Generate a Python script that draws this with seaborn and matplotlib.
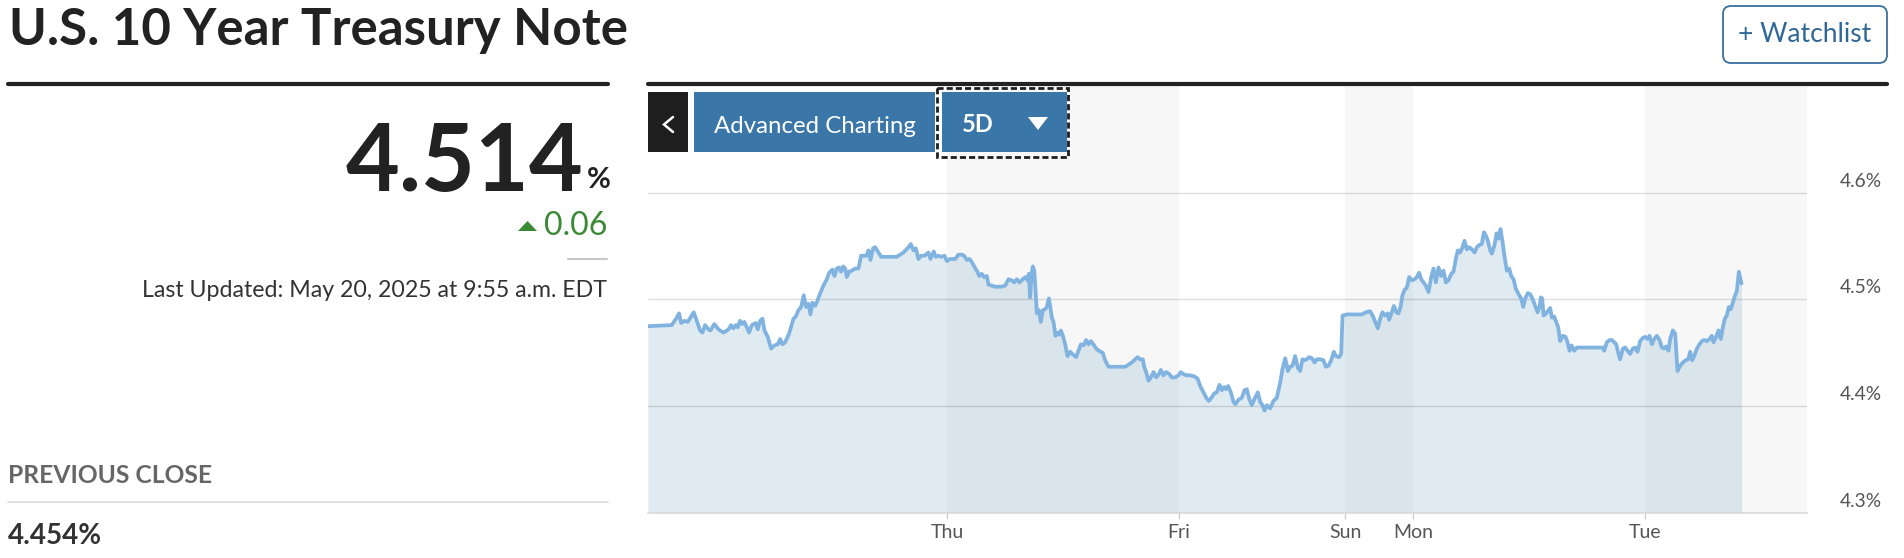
import matplotlib
matplotlib.use("Agg")
import matplotlib.pyplot as plt
import matplotlib.transforms as mtransforms
from matplotlib.patches import Rectangle, FancyBboxPatch, Polygon
from matplotlib.lines import Line2D
import seaborn as sns

# time axis = trading hours counted from Thu 00:00 (weekend gap squeezed out, like the site)
hours = [
    -31.02, -28.54, -28.02, -27.78, -27.57, -27.22, -26.88, -26.53, -26.26, -25.95,
    -25.60, -25.36, -25.08, -24.74, -24.53, -24.12, -23.70, -23.18, -22.66, -22.39,
    -22.15, -21.90, -21.70, -21.46, -21.21, -21.01, -20.76, -20.52, -20.25, -19.83,
    -19.63, -19.38, -19.14, -18.93, -18.59, -18.24, -17.90, -17.55, -17.31, -17.07,
    -16.79, -16.38, -15.93, -15.69, -15.41, -15.13, -14.86, -14.62, -14.37, -14.17,
    -13.96, -13.68, -13.48, -13.20, -12.82, -12.47, -12.23, -11.89, -11.68, -11.44,
    -11.20, -10.99, -10.78, -10.57, -10.40, -10.16, -9.88, -9.54, -9.19, -8.92,
    -8.64, -8.36, -8.16, -7.95, -7.67, -7.47, -7.19, -6.84, -6.08, -5.22,
    -4.53, -4.01, -3.77, -3.49, -3.25, -2.98, -2.70, -2.35, -1.94, -1.73,
    -1.39, -1.18, -0.90, -0.63, -0.28,
    # Thu
    -0.03, 0.31, 0.83, 1.17, 1.52, 1.76, 2.04, 2.31, 2.56, 2.80,
    3.07, 3.35, 3.59, 3.83, 4.11, 4.28, 4.63, 4.97, 5.32, 5.66,
    6.01, 6.36, 6.70, 6.94, 7.22, 7.50, 7.84, 8.12, 8.33, 8.46,
    8.60, 8.74, 8.88, 9.02, 9.15, 9.29, 9.50, 9.71, 9.91, 10.16,
    10.33, 10.54, 10.67, 10.85, 11.02, 11.23, 11.43, 11.64, 11.78, 11.99,
    12.23, 12.47, 12.75, 13.09, 13.37, 13.61, 13.85, 14.13, 14.40, 14.65,
    14.89, 15.16, 15.44, 15.72, 16.13, 16.37, 16.72, 17.24, 17.93, 18.45,
    19.14, 19.72, 20.00, 20.28, 20.41, 20.62, 20.86, 21.11, 21.38, 21.66,
    21.93, 22.14, 22.42, 22.69, 23.04, 23.28, 23.63, 23.97,
    # Fri
    24.21, 24.49, 24.84, 25.18, 25.60, 25.94, 26.22, 26.56, 26.91, 27.12,
    27.39, 27.67, 27.94, 28.22, 28.46, 28.70, 28.91, 29.12, 29.40, 29.67,
    29.88, 30.19, 30.54, 30.81, 31.05, 31.30, 31.57, 31.85, 32.19, 32.44,
    32.68, 32.89, 33.13, 33.47, 33.82, 34.16, 34.51, 34.75, 35.03, 35.30,
    35.54, 35.79, 36.06, 36.34, 36.58, 36.82, 37.03, 37.27, 37.51, 37.79,
    38.07, 38.31, 38.65, 39.00, 39.24, 39.52, 39.79, 40.07, 40.28, 40.62,
    40.83,
    # Sun evening / Mon
    40.97, 41.42, 42.11, 42.97, 43.39, 43.83, 44.08, 44.35, 44.63, 44.87,
    45.11, 45.39, 45.66, 45.80, 46.08, 46.29, 46.56, 46.77, 46.98, 47.18,
    47.39, 47.63, 47.88, 48.15, 48.43, 48.67, 48.91, 49.12, 49.36, 49.60,
    49.88, 50.16, 50.40, 50.64, 50.92, 51.19, 51.43, 51.68, 51.95, 52.23,
    52.47, 52.71, 52.92, 53.16, 53.40, 53.61, 53.85, 54.09, 54.37, 54.65,
    54.89, 55.13, 55.41, 55.61, 55.82, 56.03, 56.27, 56.44, 56.72, 56.93,
    57.13, 57.34, 57.55, 57.76, 58.00, 58.24, 58.45, 58.69, 58.93, 59.21,
    59.48, 59.69, 59.90, 60.17,
    60.42, 60.69, 60.93, 61.18, 61.38, 61.52, 61.66, 61.80, 62.07, 62.31,
    62.49, 62.66, 62.90, 63.11, 63.32, 63.52, 63.80, 64.08, 64.28, 64.49,
    64.70, 64.97, 65.25, 65.94, 66.98, 67.95, 68.08, 68.36, 68.64, 68.88,
    69.12, 69.33, 69.57, 69.74, 70.02, 70.26, 70.50, 70.78, 71.05, 71.30,
    71.54, 71.81, 72.09,
    # Tue
    72.33, 72.57, 72.78, 73.02, 73.27, 73.54, 73.82,
    74.06, 74.30, 74.51, 74.75, 74.92, 75.20, 75.44, 75.68, 75.96, 76.24,
    76.51, 76.79, 76.99, 77.20, 77.41, 77.69, 77.96, 78.20, 78.45, 78.72,
    79.00, 79.24, 79.41, 79.69, 79.93, 80.17, 80.38, 80.59, 80.79, 81.00,
    81.21, 81.42, 81.62, 81.83, 82.04, 82.18, 82.31,
]

yields = [
    4.475, 4.476, 4.483, 4.487, 4.478, 4.480, 4.479, 4.484, 4.488, 4.480,
    4.471, 4.469, 4.476, 4.472, 4.471, 4.477, 4.472, 4.469, 4.472, 4.476,
    4.473, 4.476, 4.474, 4.480, 4.477, 4.479, 4.474, 4.469, 4.476, 4.478,
    4.472, 4.480, 4.482, 4.471, 4.465, 4.454, 4.457, 4.458, 4.463, 4.458,
    4.460, 4.468, 4.482, 4.484, 4.490, 4.493, 4.504, 4.493, 4.496, 4.486,
    4.497, 4.494, 4.498, 4.505, 4.513, 4.519, 4.525, 4.528, 4.522, 4.529,
    4.530, 4.526, 4.531, 4.529, 4.521, 4.526, 4.527, 4.529, 4.529, 4.541,
    4.541, 4.541, 4.546, 4.537, 4.548, 4.549, 4.545, 4.540, 4.540, 4.540,
    4.544, 4.549, 4.552, 4.546, 4.548, 4.538, 4.541, 4.541, 4.544, 4.538,
    4.545, 4.540, 4.541, 4.540, 4.541,
    # Thu
    4.536, 4.538, 4.538, 4.542, 4.542, 4.541, 4.537, 4.538, 4.535, 4.531,
    4.527, 4.522, 4.524, 4.521, 4.522, 4.514, 4.513, 4.512, 4.512, 4.512,
    4.513, 4.519, 4.518, 4.516, 4.519, 4.516, 4.519, 4.521, 4.518, 4.524,
    4.502, 4.524, 4.531, 4.527, 4.510, 4.487, 4.490, 4.479, 4.490, 4.491,
    4.493, 4.501, 4.494, 4.483, 4.479, 4.466, 4.469, 4.467, 4.471, 4.466,
    4.458, 4.447, 4.451, 4.448, 4.446, 4.452, 4.458, 4.457, 4.462, 4.458,
    4.461, 4.458, 4.454, 4.452, 4.450, 4.443, 4.437, 4.437, 4.437, 4.437,
    4.441, 4.446, 4.444, 4.444, 4.437, 4.432, 4.424, 4.427, 4.432, 4.427,
    4.430, 4.434, 4.429, 4.432, 4.430, 4.427, 4.427, 4.429,
    # Fri
    4.432, 4.430, 4.429, 4.429, 4.428, 4.426, 4.419, 4.413, 4.407, 4.405,
    4.408, 4.412, 4.413, 4.420, 4.415, 4.418, 4.416, 4.419, 4.413, 4.404,
    4.402, 4.406, 4.408, 4.415, 4.416, 4.407, 4.401, 4.407, 4.413, 4.404,
    4.401, 4.396, 4.401, 4.398, 4.405, 4.408, 4.422, 4.435, 4.445, 4.433,
    4.437, 4.438, 4.447, 4.436, 4.433, 4.444, 4.443, 4.444, 4.446, 4.445,
    4.441, 4.444, 4.444, 4.443, 4.437, 4.438, 4.443, 4.451, 4.447, 4.446,
    4.449,
    # Sun evening / Mon
    4.485, 4.486, 4.486, 4.486, 4.488, 4.489, 4.485, 4.479, 4.473, 4.482,
    4.488, 4.485, 4.487, 4.481, 4.488, 4.494, 4.488, 4.487, 4.493, 4.504,
    4.509, 4.511, 4.521, 4.518, 4.519, 4.521, 4.525, 4.519, 4.516, 4.513,
    4.507, 4.521, 4.529, 4.516, 4.530, 4.522, 4.527, 4.516, 4.518, 4.524,
    4.526, 4.538, 4.546, 4.544, 4.549, 4.555, 4.547, 4.549, 4.547, 4.544,
    4.549, 4.551, 4.552, 4.563, 4.560, 4.555, 4.546, 4.543, 4.551, 4.562,
    4.557, 4.566, 4.554, 4.540, 4.527, 4.529, 4.522, 4.519, 4.510, 4.505,
    4.501, 4.493, 4.501, 4.506,
    4.505, 4.500, 4.494, 4.488, 4.493, 4.502, 4.501, 4.485, 4.487, 4.490,
    4.492, 4.483, 4.484, 4.479, 4.474, 4.461, 4.466, 4.465, 4.460, 4.452,
    4.457, 4.452, 4.455, 4.455, 4.455, 4.455, 4.452, 4.460, 4.462, 4.462,
    4.460, 4.458, 4.449, 4.444, 4.454, 4.455, 4.452, 4.449, 4.454, 4.455,
    4.451, 4.461, 4.464,
    # Tue
    4.465, 4.463, 4.466, 4.458, 4.463, 4.466, 4.462,
    4.455, 4.454, 4.456, 4.452, 4.463, 4.471, 4.468, 4.433, 4.438, 4.441,
    4.443, 4.444, 4.451, 4.443, 4.447, 4.454, 4.458, 4.461, 4.462, 4.461,
    4.463, 4.466, 4.460, 4.465, 4.471, 4.463, 4.474, 4.482, 4.485, 4.493,
    4.491, 4.497, 4.503, 4.508, 4.526, 4.520, 4.515,
]

day_labels = ["Thu", "Fri", "Sun", "Mon", "Tue"]
day_hours = [0, 24, 41.24, 48.29, 72.33]
shaded = [(0, 24), (41.24, 48.29), (72.33, 89.1)]  # alternate sessions get a grey band
y_ticks = [4.3, 4.4, 4.5, 4.6]

last_price = "4.514"
change = "0.06"
prev_close = "4.454%"
updated = "Last Updated: May 20, 2025 at 9:55 a.m. EDT"

W, H = 1904, 558
BLUE_BTN = "#3a76a8"
LINE = "#80b3e0"
INK = "#222222"
GREEN = "#3a8a35"

sns.set_theme(style="white")
plt.rcParams["font.family"] = ["Lato", "DejaVu Sans"]

fig = plt.figure(figsize=(W / 100, H / 100), dpi=100)
# pixel coords, y going down
px = mtransforms.Affine2D().scale(1 / W, -1 / H).translate(0, 1) + fig.transFigure

ax = fig.add_axes([648 / W, 1 - 513 / H, (1807 - 648) / W, (513 - 86) / H])

for a, b in shaded:
    ax.axvspan(a, b, color="#f7f7f7", lw=0, zorder=0)

ax.fill_between(hours, 4.3, yields, color="#87afcb", alpha=0.25, lw=0, zorder=1)
sns.lineplot(x=hours, y=yields, ax=ax, color=LINE, lw=2.7, sort=False, zorder=3)

ax.set_xlim(-31.0, 89.1)
ax.set_ylim(4.3, 4.7)
ax.set_yticks(y_ticks)
ax.set_yticklabels([])
ax.yaxis.grid(True, color="black", alpha=0.13, lw=1.0)
ax.set_axisbelow(False)
ax.tick_params(axis="y", length=0)
ax.set_xticks(day_hours, day_labels)
ax.tick_params(axis="x", bottom=True, length=4, width=1, color="#cccccc",
               labelsize=14, labelcolor="#555555", pad=4)
sns.despine(ax=ax, left=True)
ax.spines["bottom"].set_color("#dddddd")
ax.spines["bottom"].set_linewidth(1.2)
ax.set_xlabel("")
ax.set_ylabel("")

lift = mtransforms.offset_copy(mtransforms.blended_transform_factory(ax.transAxes, ax.transData),
                               fig=fig, y=6, units="dots")
for v in y_ticks:
    ax.text((1882 - 648) / (1807 - 648), v, f"{v:.1f}%", transform=lift, ha="right",
            va="baseline", fontsize=13.8, color="#555555", clip_on=False)

# header
fig.text(9, 45, "U.S. 10 Year Treasury Note", transform=px, fontsize=36.7,
         fontweight="bold", color=INK, va="baseline")
fig.add_artist(Line2D([8, 608], [84, 84], transform=px, color=INK, lw=3))
fig.add_artist(Line2D([648, 1887], [84, 84], transform=px, color=INK, lw=3))

wl = FancyBboxPatch((1723, 6), 164, 57, boxstyle="round,pad=0,rounding_size=8",
                    transform=px, fill=False, ec="#3a6f9a", lw=1.3)
fig.add_artist(wl)
fig.text(1805, 35, "+ Watchlist", transform=px, fontsize=19, color="#2f6796",
         ha="center", va="center")

# chart buttons
fig.add_artist(Rectangle((648, 92), 40, 60, transform=px, color="#1e1e1e", lw=0))
fig.add_artist(Line2D([673, 664, 673], [117, 124.5, 132], transform=px, color="white",
                      lw=1.8, solid_joinstyle="miter"))
fig.add_artist(Rectangle((694, 92), 241, 60, transform=px, color=BLUE_BTN, lw=0))
fig.text(815, 133, "Advanced Charting", transform=px, fontsize=17.3, color="white",
         ha="center", va="baseline")
fig.add_artist(Rectangle((942, 92), 125, 60, transform=px, color=BLUE_BTN, lw=0))
fig.add_artist(Rectangle((937, 88), 131, 69, transform=px, fill=False, ec="#1e1e1e",
                         lw=2.0, ls=(0, (2.2, 1.1))))
fig.text(962, 132, "5D", transform=px, fontsize=17, fontweight="bold", color="white",
         va="baseline")
fig.add_artist(Polygon([(1028, 117), (1048, 117), (1038, 130)], closed=True,
                       transform=px, color="white", lw=0))

# quote panel
fig.text(583, 191, last_price, transform=px, fontsize=67, fontweight="bold",
         color=INK, ha="right", va="baseline")
fig.text(587, 188, "%", transform=px, fontsize=21, fontweight="bold", color=INK,
         va="baseline")
fig.add_artist(Polygon([(518, 231), (537, 231), (527.5, 221)], closed=True,
                       transform=px, color=GREEN, lw=0))
fig.text(607, 235, change, transform=px, fontsize=23, color=GREEN, ha="right",
         va="baseline")
fig.add_artist(Line2D([568, 607], [259, 259], transform=px, color="#c8c8c8", lw=1.5))
fig.text(607, 297, updated, transform=px, fontsize=16.7, color="#333333", ha="right",
         va="baseline")

fig.text(8, 483, "PREVIOUS CLOSE", transform=px, fontsize=17.7, fontweight="bold",
         color="#666666", va="baseline")
fig.add_artist(Line2D([8, 608], [502, 502], transform=px, color="#dcdcdc", lw=1.2))
fig.text(8, 544, prev_close, transform=px, fontsize=20, fontweight="bold",
         color="#333333", va="baseline")

fig.savefig("out.png", dpi=100, facecolor="white")
